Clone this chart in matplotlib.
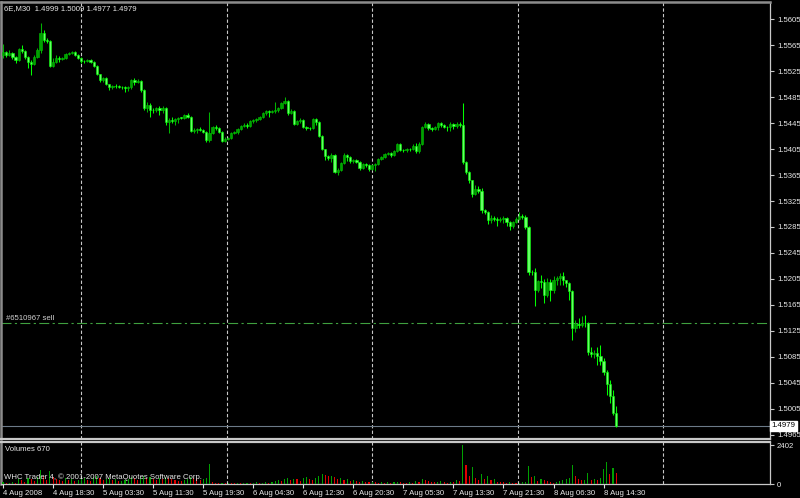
import numpy as np
import matplotlib
matplotlib.use("Agg")
import matplotlib.pyplot as plt
from matplotlib.transforms import blended_transform_factory

# 6E,M30 candles, prices given in pips above 1.5000
opens = [550, 554, 550, 553, 546, 542, 559, 556, 546, 539, 536, 546, 557, 583, 573, 571,
         533, 539, 545, 543, 545, 551, 553, 554, 550, 545, 540, 540, 542, 539, 533, 520,
         511, 514, 505, 500, 502, 502, 500, 500, 499, 500, 511, 508, 510, 496, 468, 473,
         465, 465, 468, 465, 468, 446, 450, 448, 451, 453, 453, 457, 454, 433, 434, 436, 434, 431,
         419,
         430, 439, 437, 431, 417, 420, 422, 430, 431, 436, 440, 442, 440, 448, 450, 451, 454, 460, 463,
         462, 463, 465, 468, 476, 479, 460, 463, 443, 448, 450, 439, 437, 437, 451, 446, 425, 405,
         394, 391, 396, 370, 373, 383, 396, 393, 387,
         388, 385, 376, 382, 380, 374, 380, 382, 390, 393, 397, 399, 396, 402, 413, 403, 403, 405,
         405, 410, 402, 413, 439, 443, 437, 436, 439, 445, 442, 439, 439, 443, 440, 443,
         442,
         385, 370, 357, 336, 343, 340, 311, 308, 296, 299, 297, 296, 297, 299, 293, 287, 293, 297,
         302, 300,
         285, 216, 216, 188, 202, 200, 180, 200, 188, 203, 207, 210, 203, 199, 186, 130, 136, 134,
         137, 137, 93, 90, 91, 86, 79, 62, 43, 25, -1]
highs = [566, 556, 557, 554, 548, 560, 565, 557, 548, 542, 550, 560, 599, 588, 576, 573,
         545, 550, 548, 546, 553, 554, 556, 556, 551, 546, 542, 543, 543, 540, 534, 520,
         516, 516, 505, 503, 505, 503, 502, 502, 502, 513, 514, 513, 511, 497, 477, 476,
         468, 470, 471, 471, 470, 453, 454, 453, 454, 454, 459, 460, 456, 437, 437, 439, 436, 433,
         462,
         440, 442, 439, 433, 423, 423, 431, 433, 437, 442, 445, 445, 450, 451, 453, 456, 462, 465, 465,
         465, 477, 470, 477, 485, 480, 467, 465, 450, 453, 451, 440, 439, 453, 453, 448, 426, 405,
         396, 399, 397, 376, 385, 399, 397, 394, 390,
         390, 386, 383, 383, 382, 382, 383, 391, 394, 399, 400, 400, 403, 414, 414, 405, 407, 407,
         413, 414, 416, 440, 446, 445, 439, 440, 446, 446, 443, 440, 446, 445, 446, 446,
         476,
         387, 371, 358, 350, 348, 345, 313, 310, 303, 302, 300, 300, 302, 300, 294, 294, 300, 308,
         305, 303,
         287, 219, 222, 203, 211, 205, 207, 205, 210, 210, 214, 216, 203, 200, 188, 142, 145, 148,
         149, 139, 100, 96, 100, 103, 83, 65, 49, 34, 9]
lows = [545, 546, 548, 543, 537, 540, 553, 543, 530, 519, 534, 545, 553, 570, 568, 531,
        531, 537, 539, 542, 543, 550, 551, 548, 543, 537, 537, 539, 537, 531, 519, 508,
        508, 503, 496, 497, 499, 499, 497, 493, 494, 497, 503, 507, 493, 465, 462, 454,
        460, 462, 457, 460, 442, 430, 445, 442, 445, 451, 451, 453, 431, 430, 430, 433, 430, 416,
        416,
        428, 434, 430, 416, 416, 419, 420, 428, 428, 434, 439, 437, 439, 445, 446, 450, 453, 457, 454,
        460, 460, 462, 467, 474, 457, 459, 442, 442, 445, 437, 434, 434, 436, 442, 423, 403, 388,
        388, 385, 368, 365, 371, 382, 387, 383, 383,
        383, 373, 374, 377, 371, 373, 371, 380, 388, 391, 396, 393, 394, 400, 402, 400, 400, 402,
        403, 399, 399, 411, 437, 434, 433, 434, 434, 439, 437, 433, 433, 436, 437, 439,
        382,
        367, 353, 331, 334, 337, 307, 305, 290, 291, 294, 287, 293, 291, 287, 280, 283, 291, 296,
        297, 282,
        211, 211, 163, 185, 191, 168, 177, 171, 183, 196, 196, 196, 193, 173, 111, 123, 130, 131,
        131, 88, 85, 83, 73, 73, 57, 27, 14, -4, -23]
closes = [554, 550, 553, 546, 542, 559, 556, 546, 539, 536, 546, 557, 583, 573, 571, 533,
          539, 545, 543, 545, 551, 553, 554, 550, 545, 540, 540, 542, 539, 533, 520, 511,
          514, 505, 500, 502, 502, 500, 500, 499, 500, 511, 508, 510, 496, 468, 473, 465,
          465, 468, 465, 468, 446, 450, 448, 451, 453, 453, 457, 454, 433, 434, 436, 434, 431, 419,
          430,
          439, 437, 431, 417, 420, 422, 430, 431, 436, 440, 442, 440, 448, 450, 451, 454, 460, 463, 462,
          463, 465, 468, 476, 479, 460, 463, 443, 448, 450, 439, 437, 437, 451, 446, 425, 405, 394,
          391, 396, 370, 373, 383, 396, 393, 387, 388,
          385, 376, 382, 380, 374, 380, 382, 390, 393, 397, 399, 396, 402, 413, 403, 403, 405, 405,
          410, 402, 413, 439, 443, 437, 436, 439, 445, 442, 439, 439, 443, 440, 443, 442,
          385,
          370, 357, 336, 343, 340, 311, 308, 296, 299, 297, 296, 297, 299, 293, 287, 293, 297, 302,
          300, 285,
          216, 216, 188, 202, 200, 180, 200, 188, 203, 207, 210, 203, 199, 186, 130, 136, 134, 137,
          137, 93, 90, 91, 86, 79, 62, 43, 25, -1, -21]

volumes = [120, 60, 90, 150, 80, 300, 260, 150, 380, 320, 200, 450, 850, 520, 260, 800,
           420, 300, 250, 180, 350, 220, 280, 160, 240, 300, 380, 250, 200, 420, 480, 350,
           260, 300, 380, 220, 300, 160, 200, 250, 300, 420, 380, 260, 350, 520, 400, 450,
           300, 260, 350, 280, 450, 380, 300, 250, 200, 180, 260, 300, 420, 350, 300, 220, 280, 400,
           1230,
           120, 90, 60, 80, 50, 70, 60, 40, 60, 50, 70, 90, 60, 80, 100, 70, 90, 120, 80,
           150, 200, 260, 180, 300, 350, 250, 320, 280, 200, 350, 420, 300, 250, 380, 520, 650, 580,
           480, 520, 420, 300, 350, 250, 300, 200, 250,
           180, 150, 200, 120, 100, 150, 130, 90, 120, 80, 100, 60, 120, 150, 100, 80, 60, 120,
           90, 200, 150, 320, 220, 180, 120, 100, 150, 200, 130, 90, 150, 120, 260, 180,
           2402,
           1170, 480, 1040, 400, 250, 650, 300, 480, 240, 300, 150, 120, 100, 80, 120, 90, 60, 80,
           100, 140,
           1100, 420, 500, 180, 300, 250, 160, 100, 80, 120, 160, 260, 320, 380, 1170, 520, 280, 230,
           260, 700, 270, 330, 270, 350, 910, 1370, 650, 970, 670]

time_labels = ['4 Aug 2008', '4 Aug 18:30', '5 Aug 03:30', '5 Aug 11:30', '5 Aug 19:30',
               '6 Aug 04:30', '6 Aug 12:30', '6 Aug 20:30', '7 Aug 05:30', '7 Aug 13:30',
               '7 Aug 21:30', '8 Aug 06:30', '8 Aug 14:30']
label_bars = [0, 16, 32, 48, 64, 80, 96, 112, 128, 144, 160, 176, 192]
grid_bars = [25, 71.5, 118, 164.5, 211]
price_ticks = [1.5605, 1.5565, 1.5525, 1.5485, 1.5445, 1.5405, 1.5365, 1.5325, 1.5285,
               1.5245, 1.5205, 1.5165, 1.5125, 1.5085, 1.5045, 1.5005, 1.4965]
sell_price = 1.5137
order_ticket = '#6510967 sell'

o = 1.5 + np.array(opens) / 10000
h = 1.5 + np.array(highs) / 10000
l = 1.5 + np.array(lows) / 10000
c = 1.5 + np.array(closes) / 10000
vol = np.array(volumes)
x = np.arange(len(c))
last = c[-1]

plt.rcParams['font.family'] = ['Liberation Sans', 'DejaVu Sans']
FS = 5.6
TXT = '#E8E8E8'

fig = plt.figure(figsize=(8, 4.98), dpi=100, facecolor='black')
ax = fig.add_axes([1 / 800, 59 / 498, 769 / 800, 437 / 498], facecolor='black')
axv = fig.add_axes([1 / 800, 14 / 498, 769 / 800, 42 / 498], facecolor='black')

# candles
up = c > o
wick_col = np.where(up, '#00B400', '#00FF00')
body_col = np.where(up, '#00A000', '#66FF66')
edge_col = np.where(up, '#00C000', '#00FF00')
ax.vlines(x, l, h, colors=wick_col, lw=0.75, zorder=3)
body_lo = np.minimum(o, c)
body_h = np.maximum(np.abs(c - o), 0.00005)
ax.bar(x, body_h, bottom=body_lo, width=0.72, color=body_col, edgecolor=edge_col,
       linewidth=0.4, zorder=4)

# grid
for g in grid_bars:
    ax.axvline(g, color='#C8C8C8', lw=0.8, ls=(0, (3, 2)), zorder=1)
    axv.axvline(g, color='#C8C8C8', lw=0.8, ls=(0, (3, 2)), zorder=1)

# order line and bid line
ax.axhline(sell_price, color='#3FA03F', lw=0.8, ls=(0, (9, 3, 2, 3)), zorder=2)
ax.axhline(last, color='#6C7A88', lw=0.8, zorder=2)
tr = blended_transform_factory(ax.transAxes, ax.transData)
ax.text(0.006, sell_price + 0.00012, order_ticket, transform=tr, color='#D0D0D0',
        fontsize=FS, va='bottom', ha='left')

xl = (-0.64, 245.2)
ax.set_xlim(xl)
ax.set_ylim(1.49588, 1.56312)
ax.yaxis.tick_right()
ax.set_yticks(price_ticks)
ax.set_yticklabels(['%.4f' % p for p in price_ticks])
ax.tick_params(axis='y', colors='#C8C8C8', labelcolor=TXT, labelsize=FS, length=3, pad=2)
ax.set_xticks([])
ax.text(1.002, last, '%.4f' % last, transform=tr, fontsize=FS, color='black', va='center',
        ha='left', bbox=dict(boxstyle='square,pad=0.15', fc='white', ec='white'), zorder=6,
        clip_on=False)

ax.text(0.004, 0.992, '6E,M30  1.4999 1.5009 1.4977 1.4979', transform=ax.transAxes,
        color=TXT, fontsize=FS, va='top', ha='left')

for side in ['left', 'top']:
    ax.spines[side].set_color('#8C8C8C')
    ax.spines[side].set_linewidth(1.8)
ax.spines['right'].set_color('#C8C8C8')
ax.spines['right'].set_linewidth(0.9)
ax.spines['bottom'].set_color('#C8C8C8')
ax.spines['bottom'].set_linewidth(1.6)

# volumes: green when higher than previous bar, red otherwise
vcol = ['#00A000'] + ['#00A000' if vol[i] > vol[i - 1] else '#E00000' for i in range(1, len(vol))]
axv.bar(x, vol, width=0.35, color=vcol, zorder=3)
axv.set_xlim(xl)
axv.set_ylim(0, 2600)
axv.yaxis.tick_right()
axv.set_yticks([0, 2402])
axv.set_yticklabels(['0', '2402'])
axv.tick_params(axis='y', colors='#C8C8C8', labelcolor=TXT, labelsize=FS, length=3, pad=2)
axv.set_xticks(label_bars)
axv.set_xticklabels(time_labels, ha='left')
axv.tick_params(axis='x', colors='#E0E0E0', labelcolor=TXT, labelsize=FS, length=3, pad=1.5,
                direction='out')
axv.text(0.005, 0.9, 'Volumes 670', transform=axv.transAxes, color=TXT, fontsize=FS,
         va='top', ha='left')
axv.text(0.004, 0.06, 'WHC Trader 4, \u00a9 2001-2007 MetaQuotes Software Corp.',
         transform=axv.transAxes, color=TXT, fontsize=FS, va='bottom', ha='left', zorder=5)
axv.spines['left'].set_color('#8C8C8C')
axv.spines['left'].set_linewidth(1.8)
axv.spines['top'].set_color('#C8C8C8')
axv.spines['top'].set_linewidth(1.6)
for side in ['right', 'bottom']:
    axv.spines[side].set_color('#C8C8C8')
    axv.spines[side].set_linewidth(0.9)

fig.savefig('out.png', dpi=100, facecolor='black')
